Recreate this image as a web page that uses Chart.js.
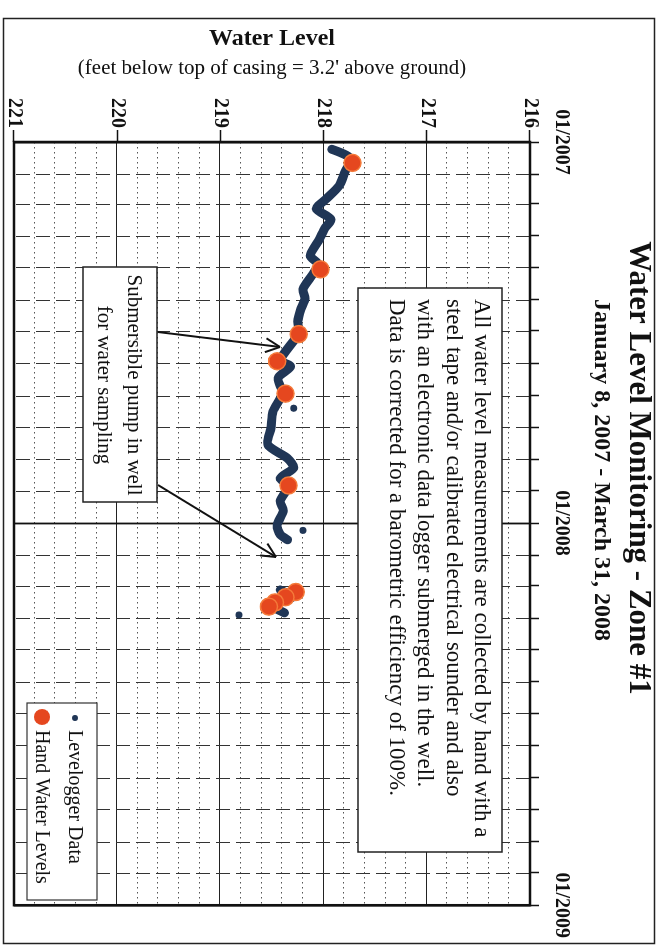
<!DOCTYPE html>
<html>
<head>
<meta charset="utf-8">
<script src="https://cdn.jsdelivr.net/npm/chart.js@4.4.1/dist/chart.umd.min.js"></script>
<style>
  html, body { margin: 0; padding: 0; background: #fff; overflow: hidden; }
  /* the chart is landscape, the page shows it turned a quarter clockwise */
  #hoja { position: absolute; left: 0; top: 0; width: 948px; height: 666px;
          transform-origin: 0 0; transform: translate(666px, 0) rotate(90deg); }
</style>
</head>
<body>
<div id="hoja"><canvas id="nivel" width="948" height="666"></canvas></div>
<script>
// levelogger (continuous record)
const loggerDates = [
  "2007-01-08", "2007-01-11", "2007-01-15", "2007-01-20", "2007-01-29",
  "2007-02-12", "2007-02-25", "2007-03-06", "2007-03-16", "2007-03-25",
  "2007-04-04", "2007-04-20", "2007-04-28", "2007-05-07", "2007-05-22",
  "2007-05-31", "2007-06-10", "2007-06-22", "2007-07-03", "2007-07-29",
  "2007-08-04", "2007-08-15", "2007-08-30", "2007-09-16", "2007-10-02",
  "2007-10-18", "2007-10-31", "2007-11-09", "2007-11-19", "2007-11-26",
  "2007-12-11", "2007-12-20", "2008-01-03", "2008-01-12", "2008-01-17",
  "2008-02-10", "2008-03-05", "2008-03-12", "2008-03-20", "2008-03-27",
];
const loggerLevels = [
  217.92, 217.84, 217.76, 217.74, 217.79,
  217.85, 217.98, 218.07, 217.93, 217.99,
  218.04, 218.13, 218.05, 218.10, 218.20,
  218.18, 218.22, 218.25, 218.24, 218.42,
  218.32, 218.44, 218.40, 218.49, 218.51,
  218.54, 218.35, 218.29, 218.42, 218.34,
  218.42, 218.39, 218.45, 218.42, 218.35,
  null, 218.42, 218.30, 218.50, 218.38,
];
// stray logger readings
const strayDates = ["2007-09-13", "2008-01-08", "2008-03-29"];
const strayLevels = [218.29, 218.2, 218.82];
// hand measurements
const handDates = [
  "2007-01-21", "2007-05-03", "2007-07-04", "2007-07-30", "2007-08-30",
  "2007-11-26", "2008-03-07", "2008-03-12", "2008-03-17", "2008-03-21",
];
const handLevels = [217.72, 218.03, 218.24, 218.45, 218.37, 218.34, 218.27, 218.37, 218.47, 218.53];

const yearTicks = ["2007-01-01", "2008-01-01", "2009-01-01"];
const levelTicks = [216, 217, 218, 219, 220, 221];

const titulo = "Water Level Monitoring - Zone #1";
const subtitulo = "January 8, 2007 - March 31, 2008";
const ejeTitulo = "Water Level";
const ejeSubtitulo = "(feet below top of casing = 3.2' above ground)";
const nota = [
  "All water level measurements are collected by hand with a",
  "steel tape and/or calibrated electrical sounder and also",
  "with an electronic data logger submerged in the well.",
  "Data is corrected for a barometric efficiency of 100%.",
];
const bomba = ["Submersible pump in well", "for water sampling"];
const leyenda = ["Levelogger Data", "Hand Water Levels"];

const serif = "'Liberation Serif', 'Times New Roman', serif";
const azul = "#203656";
const rojo = "#e5471f";

const t0 = Date.parse("2007-01-01");
const dia = (s) => (Date.parse(s) - t0) / 86400000;
const pares = (ds, vs) => ds.map((d, i) => ({ x: dia(d), y: vs[i] }));
const entero = (v) => Math.abs(v - Math.round(v)) < 1e-6;

Chart.defaults.font.family = serif;
Chart.defaults.color = "#111";

function linea(ctx, x1, y1, x2, y2) {
  ctx.beginPath();
  ctx.moveTo(x1, y1);
  ctx.lineTo(x2, y2);
  ctx.stroke();
}

const rejilla = {
  id: "rejilla",
  beforeDatasetsDraw(chart) {
    const { ctx, chartArea: a, scales } = chart;
    ctx.save();
    ctx.lineWidth = 1;
    scales.y.ticks.forEach((t) => {
      const py = Math.round(scales.y.getPixelForValue(t.value)) + 0.5;
      ctx.setLineDash(entero(t.value) ? [] : [1.5, 3.5]);
      ctx.strokeStyle = entero(t.value) ? "#222" : "#555";
      ctx.lineWidth = entero(t.value) ? 1 : 1.2;
      linea(ctx, a.left, py, a.right, py);
    });
    scales.x.ticks.forEach((t) => {
      const px = Math.round(scales.x.getPixelForValue(t.value)) + 0.5;
      const anio = yearTicks.some((d) => dia(d) === t.value);
      ctx.setLineDash(anio ? [] : [14, 6]);
      ctx.strokeStyle = anio ? "#111" : "#333";
      ctx.lineWidth = anio ? 1.8 : 1;
      linea(ctx, px, a.top, px, a.bottom);
    });
    ctx.setLineDash([]);
    ctx.strokeStyle = "#111";
    ctx.lineWidth = 2.5;
    ctx.strokeRect(a.left, a.top, a.right - a.left, a.bottom - a.top);
    ctx.restore();
  },
};

function flecha(ctx, x1, y1, x2, y2) {
  const ang = Math.atan2(y2 - y1, x2 - x1);
  linea(ctx, x1, y1, x2, y2);
  [0.45, -0.45].forEach((d) => {
    linea(ctx, x2, y2, x2 - 16 * Math.cos(ang + d), y2 - 16 * Math.sin(ang + d));
  });
}

const rotulos = {
  id: "rotulos",
  afterDraw(chart) {
    const { ctx, chartArea: a } = chart;
    ctx.save();
    ctx.fillStyle = "#111";
    ctx.strokeStyle = "#222";

    // page frame
    ctx.lineWidth = 1.5;
    ctx.strokeRect(18.5, 11.5, 925, 651);

    ctx.textAlign = "center";
    ctx.textBaseline = "middle";
    ctx.font = "bold 31px " + serif;
    ctx.fillText(titulo, 468, 28);
    ctx.font = "bold 24px " + serif;
    ctx.fillText(subtitulo, 470, 65);

    // axis title, written upward
    ctx.save();
    ctx.translate(0, (a.top + a.bottom) / 2);
    ctx.rotate(-Math.PI / 2);
    ctx.font = "bold 24px " + serif;
    ctx.fillText(ejeTitulo, 0, 39);
    ctx.font = "21px " + serif;
    ctx.fillText(ejeSubtitulo, 0, 68);
    ctx.restore();

    // note box
    ctx.lineWidth = 1.5;
    ctx.fillStyle = "#fff";
    ctx.fillRect(288, 164, 564, 144);
    ctx.strokeRect(288, 164, 564, 144);
    ctx.fillStyle = "#111";
    ctx.textAlign = "left";
    ctx.font = "23px " + serif;
    nota.forEach((s, i) => ctx.fillText(s, 299, 185 + i * 28.4));

    // pump box and arrows
    ctx.fillStyle = "#fff";
    ctx.fillRect(267, 509, 235, 74);
    ctx.strokeRect(267, 509, 235, 74);
    ctx.fillStyle = "#111";
    ctx.textAlign = "center";
    ctx.font = "21px " + serif;
    bomba.forEach((s, i) => ctx.fillText(s, 385, 532 + i * 30));
    ctx.lineWidth = 2;
    ctx.strokeStyle = "#111";
    flecha(ctx, 332, 508, 347, 386);
    flecha(ctx, 485, 508, 557, 390);

    // legend
    ctx.lineWidth = 1.2;
    ctx.strokeStyle = "#333";
    ctx.fillStyle = "#fff";
    ctx.fillRect(703, 569, 197, 70);
    ctx.strokeRect(703, 569, 197, 70);
    ctx.fillStyle = azul;
    ctx.beginPath();
    ctx.arc(718, 591, 3, 0, Math.PI * 2);
    ctx.fill();
    ctx.fillStyle = rojo;
    ctx.beginPath();
    ctx.arc(717, 624, 8, 0, Math.PI * 2);
    ctx.fill();
    ctx.fillStyle = "#111";
    ctx.textAlign = "left";
    ctx.font = "20px " + serif;
    ctx.fillText(leyenda[0], 730, 592);
    ctx.fillText(leyenda[1], 730, 625);
    ctx.restore();
  },
};

const monthTicks = [];
for (let y = 2007; y <= 2008; y++) {
  for (let m = 0; m < 12; m++) monthTicks.push((Date.UTC(y, m, 1) - t0) / 86400000);
}
monthTicks.push(dia("2009-01-01"));

const nivel = document.getElementById("nivel").getContext("2d");

new Chart(nivel, {
  type: "line",
  data: {
    datasets: [
      {
        label: leyenda[1],
        type: "scatter",
        data: pares(handDates, handLevels),
        backgroundColor: rojo,
        borderColor: "#f47a3a",
        borderWidth: 1.5,
        pointRadius: 8.5,
        order: 0,
      },
      {
        label: leyenda[0] + " stray",
        type: "scatter",
        data: pares(strayDates, strayLevels),
        backgroundColor: azul,
        borderWidth: 0,
        pointRadius: 3.5,
        order: 1,
      },
      {
        label: leyenda[0],
        data: pares(loggerDates, loggerLevels),
        borderColor: azul,
        borderWidth: 9,
        borderCapStyle: "round",
        borderJoinStyle: "round",
        pointRadius: 0,
        tension: 0.25,
        spanGaps: false,
        order: 2,
      },
    ],
  },
  options: {
    responsive: false,
    animation: false,
    layout: { padding: { left: 0, top: 0, right: 40, bottom: 13 } },
    plugins: { legend: { display: false }, tooltip: { enabled: false } },
    scales: {
      x: {
        type: "linear",
        position: "top",
        min: 0,
        max: dia("2009-01-01"),
        afterBuildTicks: (s) => { s.ticks = monthTicks.map((v) => ({ value: v })); },
        afterFit: (s) => { s.height = 136; },
        grid: {
          drawOnChartArea: false,
          tickLength: 9,
          tickWidth: 1.5,
          tickColor: "#111",
        },
        border: { display: false },
        ticks: {
          autoSkip: false,
          maxRotation: 0,
          padding: 10,
          font: { size: 20, weight: "bold" },
          callback: (v) => {
            const d = yearTicks.find((s) => dia(s) === v);
            return d ? d.slice(5, 7) + "/" + d.slice(0, 4) : "";
          },
        },
      },
      y: {
        type: "linear",
        position: "left",
        reverse: true,
        min: levelTicks[0],
        max: levelTicks[levelTicks.length - 1],
        afterBuildTicks: (s) => {
          const t = [];
          for (let k = 0; k <= 25; k++) t.push({ value: Math.round((216 + k * 0.2) * 10) / 10 });
          s.ticks = t;
        },
        afterFit: (s) => { s.width = 142; },
        grid: {
          drawOnChartArea: false,
          tickLength: 12,
          tickWidth: 1.5,
          tickColor: (c) => (c.tick && entero(c.tick.value) ? "#111" : "rgba(0,0,0,0)"),
        },
        border: { display: false },
        ticks: {
          autoSkip: false,
          padding: 2,
          font: { size: 20, weight: "bold" },
          callback: (v) => (levelTicks.includes(v) ? String(v) : ""),
        },
      },
    },
  },
  plugins: [rejilla, rotulos],
});
</script>
</body>
</html>
